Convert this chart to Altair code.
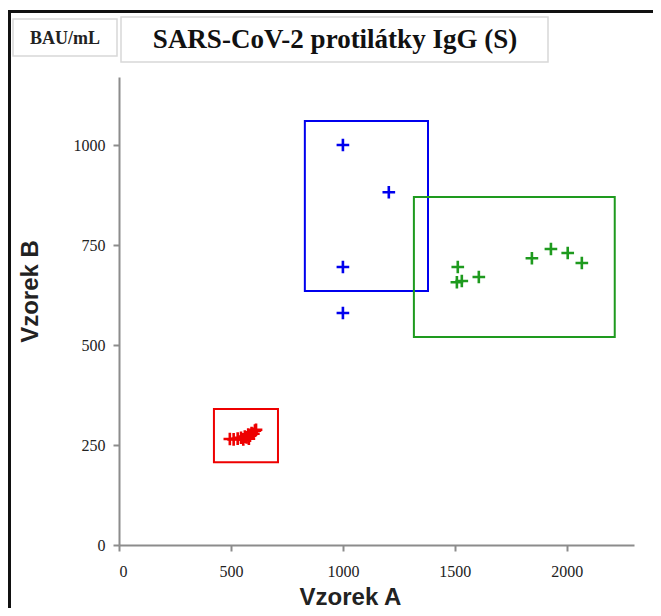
import altair as alt
import pandas as pd

# --- data ---
blue_x = [1000, 1205, 1000, 1000]
blue_y = [1000, 882, 695, 580]
green_x = [1513, 1509, 1531, 1607, 1844, 1929, 2004, 2067]
green_y = [695, 657, 660, 670, 717, 740, 730, 705]
red_x = [495, 512, 530, 545, 555, 562, 570, 577, 585, 592, 600, 607, 612, 580]
red_y = [265, 264, 266, 268, 264, 271, 269, 276, 273, 280, 278, 286, 288, 266]

box_group = ["red", "blue", "green"]
box_x0 = [424, 830, 1317]
box_x1 = [710, 1380, 2214]
box_y0 = [207, 635, 520]
box_y1 = [340, 1060, 870]

x_ticks = [0, 500, 1000, 1500, 2000]
y_ticks = [0, 250, 500, 750, 1000]

groups = ["red", "blue", "green"]
colors = ["#ee0000", "#0000ee", "#1e9a1e"]

title_text = "SARS-CoV-2 protilátky IgG (S)"
unit_text = "BAU/mL"

pts = pd.DataFrame(
    {"x": blue_x + green_x + red_x,
     "y": blue_y + green_y + red_y,
     "g": ["blue"] * len(blue_x) + ["green"] * len(green_x) + ["red"] * len(red_x)}
)
boxes = pd.DataFrame({"g": box_group, "x0": box_x0, "x1": box_x1, "y0": box_y0, "y1": box_y1})

xs = alt.Scale(domain=[0, 2300], nice=False, zero=False)
ys = alt.Scale(domain=[0, 1170], nice=False, zero=False)
cs = alt.Scale(domain=groups, range=colors)

axis_common = dict(
    grid=False, domainColor="#8c8c8c", domainWidth=2, tickColor="#8c8c8c",
    tickWidth=2, tickSize=6, labelFont="Liberation Serif", labelFontSize=16,
    labelColor="#222222", titleFont="Liberation Sans", titleFontSize=24,
    titleFontWeight="bold", titleColor="#222222", format="d",
)

x_axis = alt.Axis(values=x_ticks, title="Vzorek A", labelPadding=12,
                  titleX=231, titleY=59, titleBaseline="alphabetic", titleAlign="center",
                  **axis_common)
y_axis = alt.Axis(values=y_ticks, title="Vzorek B", labelPadding=8,
                  titleX=-89, titleY=214, titleAngle=-90, titleBaseline="middle",
                  titleAlign="center", **axis_common)

rects = alt.Chart(boxes).mark_rect(fill=None, strokeWidth=2).encode(
    x=alt.X("x0:Q", scale=xs, axis=x_axis),
    x2="x1:Q",
    y=alt.Y("y0:Q", scale=ys, axis=y_axis),
    y2="y1:Q",
    stroke=alt.Stroke("g:N", scale=cs, legend=None),
)

points = alt.Chart(pts).mark_point(
    shape="M-1,0H1M0,-1V1", filled=False, strokeWidth=2.6, size=160, opacity=1
).encode(
    x=alt.X("x:Q", scale=xs),
    y=alt.Y("y:Q", scale=ys),
    color=alt.Color("g:N", scale=cs, legend=None),
)

# decorative frame and header boxes
deco = pd.DataFrame({"k": [0]})
frame_top = alt.Chart(deco).mark_rule(color="#111111", strokeWidth=3).encode(
    x=alt.value(-110), x2=alt.value(540), y=alt.value(-65.5))
frame_left = alt.Chart(deco).mark_rule(color="#111111", strokeWidth=3).encode(
    x=alt.value(-109.5), y=alt.value(-67), y2=alt.value(535))
unit_box = alt.Chart(deco).mark_rect(fill="white", stroke="#d8d8d8", strokeWidth=1.5).encode(
    x=alt.value(-106), x2=alt.value(-2), y=alt.value(-58), y2=alt.value(-21))
title_box = alt.Chart(deco).mark_rect(fill="white", stroke="#d8d8d8", strokeWidth=1.5).encode(
    x=alt.value(2), x2=alt.value(429), y=alt.value(-60), y2=alt.value(-15))
unit_lbl = alt.Chart(deco).mark_text(
    text=unit_text, font="Liberation Serif", fontSize=18, fontWeight="bold",
    color="#222222", align="center", baseline="middle").encode(
    x=alt.value(-54), y=alt.value(-38))
title_lbl = alt.Chart(deco).mark_text(
    text=title_text, font="Liberation Serif", fontSize=27, fontWeight="bold",
    color="#111111", align="center", baseline="middle").encode(
    x=alt.value(216), y=alt.value(-37))

chart = alt.layer(
    rects, points, frame_top, frame_left, unit_box, title_box, unit_lbl, title_lbl
).properties(
    width=515, height=468,
    padding={"left": 111, "top": 69, "right": 19, "bottom": 63},
    autosize=alt.AutoSizeParams(type="none"),
    background="white",
).configure_view(stroke=None)

chart.save("out.html", embed_options={"renderer": "svg", "actions": False})
